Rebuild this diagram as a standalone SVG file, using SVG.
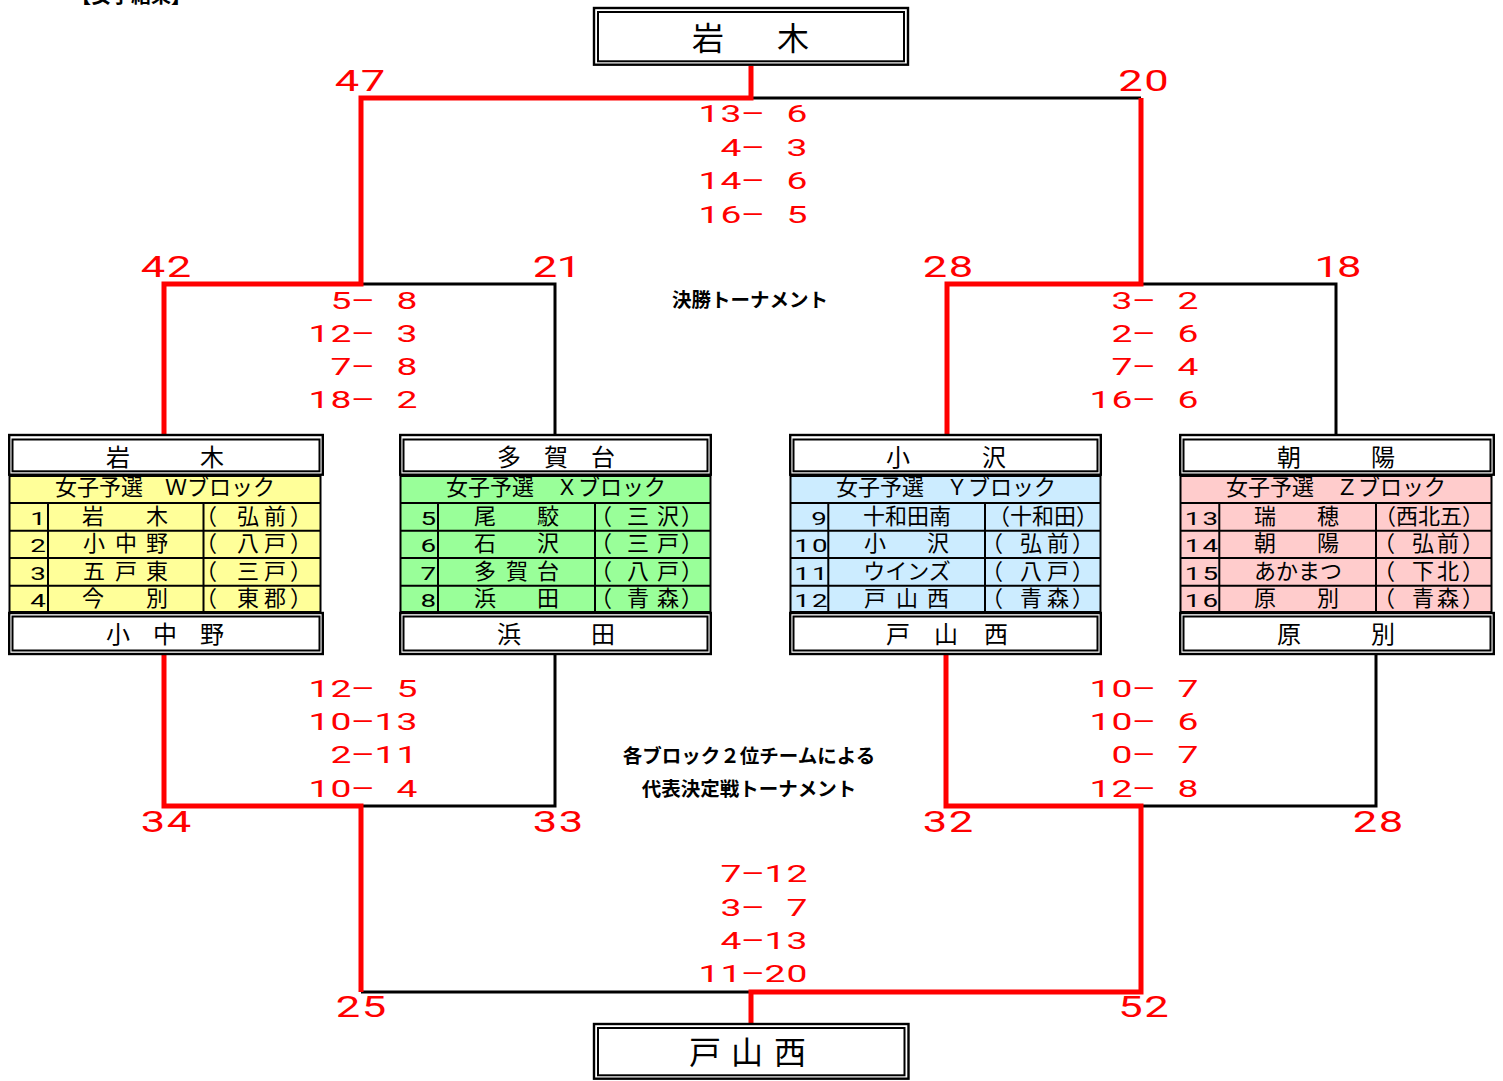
<svg xmlns="http://www.w3.org/2000/svg" width="1503" height="1081" viewBox="0 0 1503 1081">
<style>
.jp{font-family:"Noto Sans CJK JP","Noto Sans CJK SC",sans-serif;fill:#000}
.jb{font-family:"Noto Sans CJK JP","Noto Sans CJK SC",sans-serif;fill:#000;font-weight:bold;text-anchor:middle}
.num{font-family:Roboto,"Liberation Sans",sans-serif;font-weight:400;fill:#f00;text-anchor:middle}
.sc{font-size:24px}
.wn{font-size:30px}
.rn{font-family:Roboto,"Liberation Sans",sans-serif;font-weight:400;fill:#000;font-size:18.5px;text-anchor:middle}
.mid{text-anchor:middle}
.ob{fill:#fff;stroke:#000;stroke-width:2.4}
.ib{fill:none;stroke:#000;stroke-width:2}
.tbl{stroke:#000;stroke-width:2}
.grid{stroke:#000;stroke-width:2;fill:none}
.rl{fill:none;stroke:#f00;stroke-width:5}
.bl{fill:none;stroke:#000;stroke-width:3}
.t24{font-size:24px}
.t22{font-size:22px}
.t32{font-size:32px}
</style>

<text class="jb" x="131" y="2.5" font-size="20">【女子結果】</text>

<g id="connectors">
<path class="bl" d="M751 98 H1141"/>
<path class="bl" d="M361 284 H555 V436"/>
<path class="bl" d="M1141 284 H1336 V436"/>
<path class="bl" d="M361 806 H555 V654"/>
<path class="bl" d="M1141 806 H1376 V654"/>
<path class="bl" d="M361 992 H751"/>
<path class="rl" d="M751 66 V98 H361 V284 H164 V436"/>
<path class="rl" d="M1141 98 V284 H947 V436"/>
<path class="rl" d="M164 654 V806 H361 V992"/>
<path class="rl" d="M751 1024 V992 H1141 V806 H946 V654"/>
</g>

<g id="final-top">
<rect class="ob" x="594" y="8" width="314" height="56.7"/>
<rect class="ib" x="598" y="12" width="306" height="49.3"/>
<text class="jp t32 mid" x="708 793" y="50">岩木</text>
</g>

<g id="final-bottom">
<rect class="ob" x="594" y="1024" width="314.5" height="54.7"/>
<rect class="ib" x="598" y="1028" width="306.5" height="47.3"/>
<text class="jp t32 mid" x="705 747 790" y="1064">戸山西</text>
</g>

<g id="labels">
<text class="jb" x="750" y="307" font-size="19.5">決勝トーナメント</text>
<text class="jb" x="749" y="763" font-size="19.5">各ブロック２位チームによる</text>
<text class="jb" x="749" y="796" font-size="19.5">代表決定戦トーナメント</text>
</g>

<g id="winner-points">
<text class="num wn" transform="translate(360,0) scale(1.45,1)" x="-8.97 8.97" y="91.5">47</text>
<text class="num wn" transform="translate(1143.5,0) scale(1.45,1)" x="-8.97 8.97" y="91.5">20</text>
<text class="num wn" transform="translate(166,0) scale(1.45,1)" x="-8.97 8.97" y="277">42</text>
<text class="num wn" transform="translate(557,0) scale(1.45,1)" x="-8.3 8.3" y="277">21</text>
<text class="num wn" transform="translate(948,0) scale(1.45,1)" x="-8.97 8.97" y="277">28</text>
<text class="num wn" transform="translate(1338,0) scale(1.45,1)" x="-7.8 7.8" y="277">18</text>
<text class="num wn" transform="translate(166,0) scale(1.45,1)" x="-8.97 8.97" y="832">34</text>
<text class="num wn" transform="translate(558,0) scale(1.45,1)" x="-8.97 8.97" y="832">33</text>
<text class="num wn" transform="translate(948,0) scale(1.45,1)" x="-8.97 8.97" y="832">32</text>
<text class="num wn" transform="translate(1378,0) scale(1.45,1)" x="-8.97 8.97" y="832">28</text>
<text class="num wn" transform="translate(361,0) scale(1.45,1)" x="-8.97 8.97" y="1017.5">25</text>
<text class="num wn" transform="translate(1143.5,0) scale(1.45,1)" x="-8.97 8.97" y="1017.5">52</text>
</g>

<g id="scores-final" transform="translate(808,0) scale(1.55,1)">
<text class="num sc" x="-63.87 -49.68 -35.48 -7.10" y="122.5">13–6</text>
<text class="num sc" x="-49.68 -35.48 -7.10" y="156">4–3</text>
<text class="num sc" x="-63.87 -49.68 -35.48 -7.10" y="189.5">14–6</text>
<text class="num sc" x="-63.87 -49.68 -35.48 -7.10" y="223">16–5</text>
</g>
<g id="scores-semi-left" transform="translate(418,0) scale(1.55,1)">
<text class="num sc" x="-49.68 -35.48 -7.10" y="309">5–8</text>
<text class="num sc" x="-63.87 -49.68 -35.48 -7.10" y="342">12–3</text>
<text class="num sc" x="-49.68 -35.48 -7.10" y="375">7–8</text>
<text class="num sc" x="-63.87 -49.68 -35.48 -7.10" y="408">18–2</text>
</g>
<g id="scores-semi-right" transform="translate(1199,0) scale(1.55,1)">
<text class="num sc" x="-49.68 -35.48 -7.10" y="309">3–2</text>
<text class="num sc" x="-49.68 -35.48 -7.10" y="342">2–6</text>
<text class="num sc" x="-49.68 -35.48 -7.10" y="375">7–4</text>
<text class="num sc" x="-63.87 -49.68 -35.48 -7.10" y="408">16–6</text>
</g>
<g id="scores-second-left" transform="translate(418,0) scale(1.55,1)">
<text class="num sc" x="-63.87 -49.68 -35.48 -7.10" y="697.5">12–5</text>
<text class="num sc" x="-63.87 -49.68 -35.48 -21.29 -7.10" y="730.5">10–13</text>
<text class="num sc" x="-49.68 -35.48 -21.29 -7.10" y="763.5">2–11</text>
<text class="num sc" x="-63.87 -49.68 -35.48 -7.10" y="797.5">10–4</text>
</g>
<g id="scores-second-right" transform="translate(1199,0) scale(1.55,1)">
<text class="num sc" x="-63.87 -49.68 -35.48 -7.10" y="697.5">10–7</text>
<text class="num sc" x="-63.87 -49.68 -35.48 -7.10" y="730.5">10–6</text>
<text class="num sc" x="-49.68 -35.48 -7.10" y="763.5">0–7</text>
<text class="num sc" x="-63.87 -49.68 -35.48 -7.10" y="797.5">12–8</text>
</g>
<g id="scores-second-final" transform="translate(808,0) scale(1.55,1)">
<text class="num sc" x="-49.68 -35.48 -21.29 -7.10" y="882.5">7–12</text>
<text class="num sc" x="-49.68 -35.48 -7.10" y="916.5">3–7</text>
<text class="num sc" x="-49.68 -35.48 -21.29 -7.10" y="949.5">4–13</text>
<text class="num sc" x="-63.87 -49.68 -35.48 -21.29 -7.10" y="982.5">11–20</text>
</g>

<!-- Block W -->
<g id="blockW" transform="translate(8,0)">
<rect x="1.5" y="476" width="311" height="136" fill="#FFFF99" class="tbl"/>
<path class="grid" d="M1.5 503 H312.5 M1.5 530.7 H312.5 M1.5 558 H312.5 M1.5 585.7 H312.5 M40 503 V612 M195.5 503 V612"/>
<rect class="ob" x="1.2" y="435" width="313.6" height="39.7"/>
<rect class="ib" x="4.5" y="439.5" width="307" height="31.8"/>
<rect class="ob" x="1.2" y="613" width="313.6" height="41"/>
<rect class="ib" x="4.5" y="616.5" width="307" height="34"/>
<text class="jp t24 mid" x="110 204" y="465.5">岩木</text>
<text class="jp t24 mid" x="110 157 204" y="643">小中野</text>
<text class="jp t22 mid" x="157" y="495">女子予選　Ｗブロック</text>
<g transform="scale(1.5,1)">
<text class="rn" x="20" y="525">1</text>
<text class="rn" x="20" y="552.5">2</text>
<text class="rn" x="20" y="580">3</text>
<text class="rn" x="20" y="607.5">4</text>
</g>
<text class="jp t22 mid" x="85 149" y="523.5">岩木</text>
<text class="jp t22 mid" x="86 118 149" y="551">小中野</text>
<text class="jp t22 mid" x="86 118 149" y="578.5">五戸東</text>
<text class="jp t22 mid" x="85 149" y="606">今別</text>
<text class="jp t22 mid" x="198 240 267 293" y="523.5">（弘前）</text>
<text class="jp t22 mid" x="198 240 267 293" y="551">（八戸）</text>
<text class="jp t22 mid" x="198 240 267 293" y="578.5">（三戸）</text>
<text class="jp t22 mid" x="198 240 267 293" y="606">（東郡）</text>
</g>

<!-- Block X -->
<g id="blockX" transform="translate(399,0)">
<rect x="1.5" y="476" width="310" height="136" fill="#99FF99" class="tbl"/>
<path class="grid" d="M1.5 503 H311.5 M1.5 530.7 H311.5 M1.5 558 H311.5 M1.5 585.7 H311.5 M39 503 V612 M196 503 V612"/>
<rect class="ob" x="1.2" y="435" width="310.6" height="39.7"/>
<rect class="ib" x="4.5" y="439.5" width="304" height="31.8"/>
<rect class="ob" x="1.2" y="613" width="310.6" height="41"/>
<rect class="ib" x="4.5" y="616.5" width="304" height="34"/>
<text class="jp t24 mid" x="110 157 204" y="465.5">多賀台</text>
<text class="jp t24 mid" x="110 204" y="643">浜田</text>
<text class="jp t22 mid" x="157" y="495">女子予選　Ｘブロック</text>
<g transform="scale(1.5,1)">
<text class="rn" x="19.6" y="525">5</text>
<text class="rn" x="19.6" y="552.5">6</text>
<text class="rn" x="19.6" y="580">7</text>
<text class="rn" x="19.6" y="607.5">8</text>
</g>
<text class="jp t22 mid" x="86 149" y="523.5">尾駮</text>
<text class="jp t22 mid" x="86 149" y="551">石沢</text>
<text class="jp t22 mid" x="86 118 149" y="578.5">多賀台</text>
<text class="jp t22 mid" x="86 149" y="606">浜田</text>
<text class="jp t22 mid" x="202 239 269 293" y="523.5">（三沢）</text>
<text class="jp t22 mid" x="202 239 269 293" y="551">（三戸）</text>
<text class="jp t22 mid" x="202 239 269 293" y="578.5">（八戸）</text>
<text class="jp t22 mid" x="202 239 269 293" y="606">（青森）</text>
</g>

<!-- Block Y -->
<g id="blockY" transform="translate(789,0)">
<rect x="1.5" y="476" width="310" height="136" fill="#CCECFF" class="tbl"/>
<path class="grid" d="M1.5 503 H311.5 M1.5 530.7 H311.5 M1.5 558 H311.5 M1.5 585.7 H311.5 M39.3 503 V612 M196 503 V612"/>
<rect class="ob" x="1.2" y="435" width="310.6" height="39.7"/>
<rect class="ib" x="4.5" y="439.5" width="304" height="31.8"/>
<rect class="ob" x="1.2" y="613" width="310.6" height="41"/>
<rect class="ib" x="4.5" y="616.5" width="304" height="34"/>
<text class="jp t24 mid" x="109 205" y="465.5">小沢</text>
<text class="jp t24 mid" x="109 157 207" y="643">戸山西</text>
<text class="jp t22 mid" x="157" y="495">女子予選　Ｙブロック</text>
<g transform="scale(1.5,1)">
<text class="rn" x="20" y="525">9</text>
<text class="rn" x="8.7 20.5" y="552.5">10</text>
<text class="rn" x="8.7 20.5" y="580">11</text>
<text class="rn" x="8.7 20.5" y="607.5">12</text>
</g>
<text class="jp t22 mid" x="118" y="523.5">十和田南</text>
<text class="jp t22 mid" x="86 149" y="551">小沢</text>
<text class="jp t22 mid" x="118" y="578.5">ウインズ</text>
<text class="jp t22 mid" x="86 118 149" y="606">戸山西</text>
<text class="jp t22 mid" x="254" y="523.5">（十和田）</text>
<text class="jp t22 mid" x="203 242 269 294" y="551">（弘前）</text>
<text class="jp t22 mid" x="203 242 269 294" y="578.5">（八戸）</text>
<text class="jp t22 mid" x="203 242 269 294" y="606">（青森）</text>
</g>

<!-- Block Z -->
<g id="blockZ" transform="translate(1179,0)">
<rect x="1.5" y="476" width="311" height="136" fill="#FFCCCC" class="tbl"/>
<path class="grid" d="M1.5 503 H312.5 M1.5 530.7 H312.5 M1.5 558 H312.5 M1.5 585.7 H312.5 M40.3 503 V612 M197 503 V612"/>
<rect class="ob" x="1.2" y="435" width="313.6" height="39.7"/>
<rect class="ib" x="4.5" y="439.5" width="307" height="31.8"/>
<rect class="ob" x="1.2" y="613" width="313.6" height="41"/>
<rect class="ib" x="4.5" y="616.5" width="307" height="34"/>
<text class="jp t24 mid" x="110 204" y="465.5">朝陽</text>
<text class="jp t24 mid" x="110 204" y="643">原別</text>
<text class="jp t22 mid" x="157" y="495">女子予選　Ｚブロック</text>
<g transform="scale(1.5,1)">
<text class="rn" x="9 20.8" y="525">13</text>
<text class="rn" x="9 20.8" y="552.5">14</text>
<text class="rn" x="9 20.8" y="580">15</text>
<text class="rn" x="9 20.8" y="607.5">16</text>
</g>
<text class="jp t22 mid" x="86 149" y="523.5">瑞穂</text>
<text class="jp t22 mid" x="86 149" y="551">朝陽</text>
<text class="jp t22 mid" x="119" y="578.5">あかまつ</text>
<text class="jp t22 mid" x="86 149" y="606">原別</text>
<text class="jp t22 mid" x="250" y="523.5">（西北五）</text>
<text class="jp t22 mid" x="205 244 269 294" y="551">（弘前）</text>
<text class="jp t22 mid" x="205 244 269 294" y="578.5">（下北）</text>
<text class="jp t22 mid" x="205 244 269 294" y="606">（青森）</text>
</g>
</svg>
